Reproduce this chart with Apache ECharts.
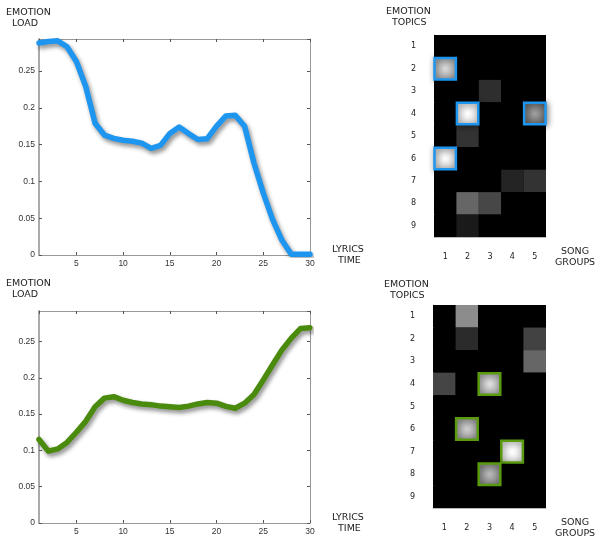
<!DOCTYPE html>
<html><head><meta charset="utf-8">
<script src="https://cdn.jsdelivr.net/npm/echarts@6/dist/echarts.min.js"></script>
<style>html,body{margin:0;padding:0;background:#fff}#c{width:603px;height:538px}</style>
</head><body><div id="c"></div>
<script>
// ---- data ----
const lyricsTime = [1,2,3,4,5,6,7,8,9,10,11,12,13,14,15,16,17,18,19,20,21,22,23,24,25,26,27,28,29,30];
const loadTop = [0.288,0.290,0.291,0.283,0.263,0.229,0.179,0.163,0.1585,0.156,0.1545,0.152,0.145,0.149,0.165,0.174,0.165,0.157,0.158,0.175,0.189,0.190,0.175,0.125,0.084,0.048,0.020,0.001,0.001,0.001];
const loadBottom = [0.115,0.099,0.102,0.111,0.125,0.140,0.160,0.172,0.174,0.169,0.166,0.164,0.163,0.161,0.160,0.159,0.161,0.164,0.166,0.165,0.1606,0.158,0.165,0.177,0.197,0.218,0.2385,0.2546,0.268,0.269];
const yTicks = [0,0.05,0.1,0.15,0.2,0.25];
const songGroups = ['1','2','3','4','5'];
const emotionTopics = ['1','2','3','4','5','6','7','8','9'];
// rows = topics 1..9, cols = song groups 1..5
const topMatrix = [
  [0,0,0,0,0],
  [0.72,0,0,0,0],
  [0,0,0.18,0,0],
  [0,0.95,0,0,0.5],
  [0,0.2,0,0,0],
  [0.88,0,0,0,0],
  [0,0,0,0.14,0.2],
  [0,0.4,0.28,0,0],
  [0,0.1,0,0,0]
];
const topHighlights = [[2,1],[4,2],[4,5],[6,1]]; // [topic, group]
const bottomMatrix = [
  [0,0.55,0,0,0],
  [0,0.17,0,0,0.26],
  [0,0,0,0,0.4],
  [0.27,0,0.75,0,0],
  [0,0,0,0,0],
  [0,0.68,0,0,0],
  [0,0,0,0.97,0],
  [0,0,0.6,0,0],
  [0,0,0,0,0]
];
const bottomHighlights = [[4,3],[6,2],[7,4],[8,3]];

// ---- build ----
function zip(xs, ys){ return xs.map((x,i)=>[x, ys[i]]); }
function cells(mat, hl){
  const plain = [], hi = [];
  mat.forEach((row, r) => row.forEach((v, c) => {
    const h = hl.some(p => p[0] === r+1 && p[1] === c+1) ? 1 : 0;
    (h ? hi : plain).push([c, r, v, h]);
  }));
  return plain.concat(hi);
}
function gray(v){ v = Math.max(0, Math.min(1, v)); const g = Math.round(v*255); return 'rgb('+g+','+g+','+g+')'; }
function makeRender(border){
  return function(params, api){
    const c = api.coord([api.value(0), api.value(1)]);
    const s = api.size([1,1]);
    const v = api.value(2), h = api.value(3);
    const x = c[0]-s[0]/2, y = c[1]-s[1]/2;
    if(!h){
      return {type:'rect', z2:1, shape:{x:x, y:y, width:s[0], height:s[1]}, style:{fill:gray(v)}};
    }
    return {type:'rect', z2:10, shape:{x:x+0.5, y:y+0.5, width:s[0]-1, height:s[1]-1},
      style:{fill:{type:'radial', x:0.5, y:0.5, r:0.7, colorStops:[{offset:0,color:gray(v+0.13)},{offset:1,color:gray(v-0.17)}]},
        stroke:border, lineWidth:2.5, shadowBlur:6, shadowColor:'rgba(0,0,0,0.45)', shadowOffsetX:1, shadowOffsetY:1}};
  };
}

const labelFont = 'DejaVu Sans';
const numFont = 'Liberation Sans';
const grids = [
  {left:39, top:39, width:271, height:216},
  {left:39, top:311, width:271, height:212},
  {left:434, top:35, width:112, height:202, show:true, backgroundColor:'#000', borderWidth:0},
  {left:433, top:305, width:113, height:203, show:true, backgroundColor:'#000', borderWidth:0}
];
function lineX(gi, pos){
  return {type:'value', gridIndex:gi, position:pos, min:1, max:30, minInterval:5, maxInterval:5,
    axisLine:{show:true, onZero:false, lineStyle:{color:'#999', width:1}},
    axisTick:{show:true, inside:true, length:3, lineStyle:{color:'#555'}},
    axisLabel:{show:pos==='bottom', showMinLabel:false, fontFamily:numFont, fontSize:8.5, color:'#333', margin:4},
    splitLine:{show:false}};
}
function lineY(gi, pos, max){
  return {type:'value', gridIndex:gi, position:pos, min:0, max:max, interval:0.05,
    axisLine:{show:true, onZero:false, lineStyle:{color: pos==='left' ? '#aaa' : '#999', width: pos==='left' ? 2 : 1}},
    axisTick:{show:true, inside:true, length:3, lineStyle:{color:'#555'}},
    axisLabel:{show:pos==='left', showMaxLabel:false, fontFamily:numFont, fontSize:8.5, color:'#333', margin:4,
      formatter: v => yTicks.some(t => Math.abs(t-v) < 1e-9) ? String(+v.toFixed(2)) : ''},
    splitLine:{show:false}};
}
function catX(gi){
  return {type:'category', gridIndex:gi, data:songGroups, position:'bottom',
    axisLine:{show:true, lineStyle:{color:'#bbb'}}, axisTick:{show:false}, splitLine:{show:false}, splitArea:{show:false},
    axisLabel:{fontFamily:labelFont, fontSize:8, color:'#222', margin:16}};
}
function catY(gi){
  return {type:'category', gridIndex:gi, data:emotionTopics, inverse:true, position:'left',
    axisLine:{show:true, lineStyle:{color:'#bbb'}}, axisTick:{show:false}, splitLine:{show:false}, splitArea:{show:false},
    axisLabel:{fontFamily:labelFont, fontSize:8, color:'#222', margin:18}};
}
function lineSeries(xi, yi, data, color){
  return {type:'line', xAxisIndex:xi, yAxisIndex:yi, data:data, symbol:'none', smooth:false,
    lineStyle:{color:color, width:5.5, cap:'round', join:'round', shadowColor:'rgba(0,0,0,0.45)', shadowBlur:4, shadowOffsetX:2, shadowOffsetY:3},
    z:3};
}
const T = (x, y, s) => ({type:'text', left:x, top:y, style:{text:s, fontFamily:labelFont, fontSize:9.5, fill:'#222', lineHeight:11}});

const chart = echarts.init(document.getElementById('c'), null, {renderer:'canvas'});
chart.setOption({
  animation:false,
  backgroundColor:'#fff',
  grid: grids,
  xAxis:[lineX(0,'bottom'), lineX(0,'top'), lineX(1,'bottom'), lineX(1,'top'), catX(2), catX(3)],
  yAxis:[lineY(0,'left',0.2935), lineY(0,'right',0.2935), lineY(1,'left',0.292), lineY(1,'right',0.292), catY(2), catY(3)],
  series:[
    lineSeries(0, 0, zip(lyricsTime, loadTop), '#1e96f0'),
    lineSeries(2, 2, zip(lyricsTime, loadBottom), '#4a8a0c'),
    {type:'custom', xAxisIndex:4, yAxisIndex:4, renderItem:makeRender('#1e96f0'), data:cells(topMatrix, topHighlights), clip:false},
    {type:'custom', xAxisIndex:5, yAxisIndex:5, renderItem:makeRender('#5a9a10'), data:cells(bottomMatrix, bottomHighlights), clip:false}
  ],
  graphic:[
    T(6, 7, 'EMOTION\n  LOAD'),
    T(6, 278, 'EMOTION\n  LOAD'),
    T(332, 244, 'LYRICS\n  TIME'),
    T(332, 512, 'LYRICS\n  TIME'),
    T(386, 6, 'EMOTION\n  TOPICS'),
    T(384, 279, 'EMOTION\n  TOPICS'),
    T(555, 246, '  SONG\nGROUPS'),
    T(555, 517, '  SONG\nGROUPS')
  ]
});
</script></body></html>
